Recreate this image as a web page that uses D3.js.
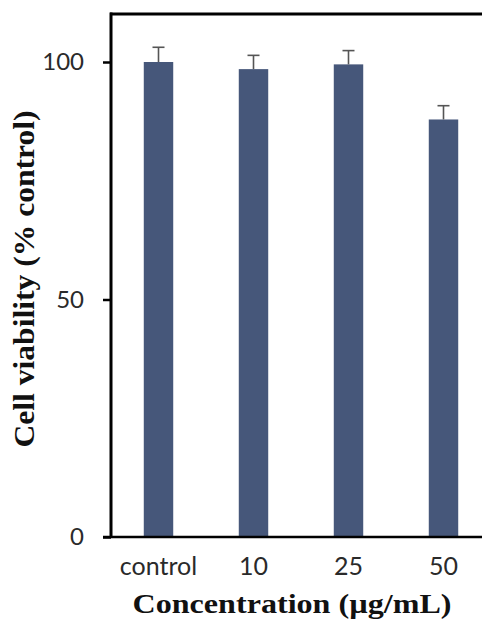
<!DOCTYPE html>
<html>
<head>
<meta charset="utf-8">
<script src="https://cdn.jsdelivr.net/npm/d3@7"></script>
<style>
  html, body { margin: 0; padding: 0; background: #fff; }
  svg { display: block; }
</style>
</head>
<body>
<svg id="chart" width="482" height="622"></svg>
<script>
const categories = ["control", "10", "25", "50"];
const viability = [100, 98.5, 99.5, 87.9];
const errors = [3.1, 2.9, 2.9, 2.9];
const yTicks = [0, 50, 100];

const svg = d3.select("#chart");
const mLeft = 111, mRight = 491, mTop = 14, mBottom = 537;

const x = d3.scaleBand().domain(categories).range([mLeft, mRight])
  .paddingInner(0.69).paddingOuter(0.345);
const y = d3.scaleLinear().domain([0, 110]).range([mBottom, mBottom - 110 * 4.75]);

// bars
svg.append("g").selectAll("rect").data(categories).join("rect")
  .attr("x", d => x(d))
  .attr("y", (d, i) => y(viability[i]))
  .attr("width", x.bandwidth())
  .attr("height", (d, i) => y(0) - y(viability[i]))
  .attr("fill", "#46577a");

// error bars
const eb = svg.append("g").attr("stroke", "#555").attr("stroke-width", 1.6);
categories.forEach((c, i) => {
  const cx = x(c) + x.bandwidth() / 2;
  eb.append("line").attr("x1", cx).attr("x2", cx)
    .attr("y1", y(viability[i])).attr("y2", y(viability[i] + errors[i]));
  eb.append("line").attr("x1", cx - 6).attr("x2", cx + 6)
    .attr("y1", y(viability[i] + errors[i])).attr("y2", y(viability[i] + errors[i]));
});

// top border
svg.append("line").attr("x1", mLeft - 1).attr("x2", 482)
  .attr("y1", mTop).attr("y2", mTop).attr("stroke", "#000").attr("stroke-width", 3);

// y axis
const yAxis = svg.append("g").attr("transform", `translate(${mLeft},0)`)
  .call(d3.axisLeft(y).tickValues(yTicks).tickSize(8).tickPadding(19));
yAxis.select(".domain").remove();
yAxis.append("line").attr("x1", 0).attr("x2", 0).attr("y1", mTop - 1.5).attr("y2", mBottom)
  .attr("stroke", "#000").attr("stroke-width", 3);
yAxis.selectAll(".tick line").attr("stroke", "#000").attr("stroke-width", 2.5);
yAxis.selectAll(".tick text").attr("font-family", "Lato, sans-serif")
  .attr("font-size", 24).attr("fill", "#2a2a2a");

// x axis
const xAxis = svg.append("g").attr("transform", `translate(0,${mBottom})`)
  .call(d3.axisBottom(x).tickSize(0).tickPadding(20));
xAxis.select(".domain").remove();
xAxis.append("line").attr("x1", mLeft - 8).attr("x2", 482).attr("y1", 0).attr("y2", 0)
  .attr("stroke", "#000").attr("stroke-width", 2.5);
xAxis.selectAll(".tick text").attr("font-family", "Lato, sans-serif")
  .attr("font-size", 25).attr("fill", "#2a2a2a");

// axis titles
svg.append("text").attr("x", 292).attr("y", 613).attr("text-anchor", "middle")
  .attr("font-family", "'Liberation Serif', 'Times New Roman', serif")
  .attr("font-weight", "bold").attr("font-size", 28).attr("fill", "#111")
  .attr("textLength", 319).attr("lengthAdjust", "spacingAndGlyphs")
  .text("Concentration (µg/mL)");

svg.append("text").attr("transform", "translate(34,279) rotate(-90)")
  .attr("text-anchor", "middle")
  .attr("font-family", "'Liberation Serif', 'Times New Roman', serif")
  .attr("font-weight", "bold").attr("font-size", 30).attr("fill", "#111")
  .attr("textLength", 337).attr("lengthAdjust", "spacingAndGlyphs")
  .text("Cell viability (% control)");
</script>
</body>
</html>
